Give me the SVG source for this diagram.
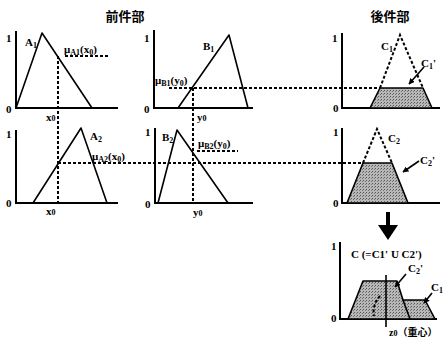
<svg xmlns="http://www.w3.org/2000/svg" width="443" height="341" viewBox="0 0 443 341">
<style>
.ax{stroke:#000;stroke-width:2;fill:none}
.mf{stroke:#000;stroke-width:1.6;fill:none;stroke-linejoin:round}
.dot{stroke:#000;stroke-width:2;stroke-dasharray:3 2;fill:none}
.sh{stroke:#000;stroke-width:1.6;stroke-linejoin:round}
.ln{stroke:#000;stroke-width:1.6;fill:none}
.t{font-family:"Liberation Serif",serif;font-weight:bold;font-size:11px;fill:#000}
.s{font-size:8px}
.m{font-family:"Liberation Serif",serif;font-weight:bold;font-size:11px;fill:#000}
.h{font-family:"Noto Sans CJK JP",sans-serif;font-weight:bold;font-size:13px;fill:#000}
.c{font-family:"Liberation Serif","Noto Sans CJK JP",serif;font-weight:bold;font-size:10px;fill:#000}
</style>
<defs>
<marker id="ah" viewBox="0 0 10 10" refX="9" refY="5" markerWidth="6" markerHeight="6" orient="auto" markerUnits="userSpaceOnUse">
<path d="M0,0 L10,5 L0,10 Z" fill="#000"/>
</marker>
<pattern id="stip" width="3" height="3" patternUnits="userSpaceOnUse">
<rect width="3" height="3" fill="#b8b8b8"/>
<rect x="0" y="0" width="1" height="1" fill="#555"/>
<rect x="2" y="1" width="1" height="1" fill="#777"/>
</pattern>
</defs>

<g id="headers">
<text class="h" x="125" y="21" text-anchor="middle">前件部</text>
<text class="h" x="390" y="21" text-anchor="middle">後件部</text>
</g>

<g id="panelA1">
<path class="ax" d="M16,31 V108 H118"/>
<text class="t" x="6" y="42">1</text>
<text class="t" x="6" y="113">0</text>
<path class="mf" d="M16,108 L42,33 L92,108"/>
<text class="t" x="25" y="46">A<tspan class="s" dy="2">1</tspan></text>
<text class="m" x="64" y="53">μ<tspan class="s" dy="2">A1</tspan><tspan dy="-2">(x</tspan><tspan class="s" dy="2">0</tspan><tspan dy="-2">)</tspan></text>
<text class="m" x="46" y="121">x<tspan class="s">0</tspan></text>
</g>

<g id="panelA2">
<path class="ax" d="M16,130 V203 H118"/>
<text class="t" x="6" y="138">1</text>
<text class="t" x="6" y="207">0</text>
<path class="mf" d="M33,203 L81,128 L107,203"/>
<text class="t" x="90" y="140">A<tspan class="s" dy="2">2</tspan></text>
<text class="m" x="92" y="160">μ<tspan class="s" dy="2">A2</tspan><tspan dy="-2">(x</tspan><tspan class="s" dy="2">0</tspan><tspan dy="-2">)</tspan></text>
<text class="m" x="46" y="215">x<tspan class="s">0</tspan></text>
</g>

<g id="panelB1">
<path class="ax" d="M154,30 V108 H253"/>
<text class="t" x="144" y="42">1</text>
<text class="t" x="144" y="113">0</text>
<path class="mf" d="M178,108 L229,35 L248,108"/>
<text class="t" x="203" y="50">B<tspan class="s" dy="2">1</tspan></text>
<text class="m" x="155" y="84">μ<tspan class="s" dy="2">B1</tspan><tspan dy="-2">(y</tspan><tspan class="s" dy="2">0</tspan><tspan dy="-2">)</tspan></text>
<text class="m" x="197" y="121">y<tspan class="s">0</tspan></text>
</g>

<g id="panelB2">
<path class="ax" d="M155,128 V203 H253"/>
<text class="t" x="145" y="136">1</text>
<text class="t" x="145" y="208">0</text>
<path class="mf" d="M158,203 L177,130 L228,203"/>
<text class="t" x="162" y="141">B<tspan class="s" dy="2">2</tspan></text>
<text class="m" x="198" y="147">μ<tspan class="s" dy="2">B2</tspan><tspan dy="-2">(y</tspan><tspan class="s" dy="2">0</tspan><tspan dy="-2">)</tspan></text>
<text class="m" x="193" y="216">y<tspan class="s">0</tspan></text>
</g>

<g id="panelC1">
<path class="ax" d="M342,33 V108 H440"/>
<text class="t" x="332" y="42">1</text>
<text class="t" x="333" y="112">0</text>
<path class="sh" d="M370,108 L380,88 H423 L432,108 Z" fill="url(#stip)"/>
<path class="dot" d="M380,88 L400,35 L423,88"/>
<text class="t" x="381" y="50">C<tspan class="s" dy="2">1</tspan></text>
<text class="t" x="421" y="67">C<tspan class="s" dy="2">1</tspan><tspan dy="-2">'</tspan></text>
</g>

<g id="panelC2">
<path class="ax" d="M342,128 V203 H440"/>
<text class="t" x="333" y="136">1</text>
<text class="t" x="333" y="207">0</text>
<path class="sh" d="M347,203 L363,163 H392 L408,203 Z" fill="url(#stip)"/>
<path class="dot" d="M363,163 L377,129 L392,163"/>
<text class="t" x="388" y="142">C<tspan class="s" dy="2">2</tspan></text>
<text class="t" x="420" y="164">C<tspan class="s" dy="2">2</tspan><tspan dy="-2">'</tspan></text>
</g>

<g id="result">
<path class="ax" d="M340,242 V319 H437"/>
<text class="t" x="331" y="250">1</text>
<text class="t" x="331" y="322">0</text>
<text class="m" x="351" y="258">C (=C1' U C2')</text>
<path class="sh" d="M348,319 L363,281 H397 L403,300 H425 L435,319 Z" fill="url(#stip)"/>
<path class="ln" d="M403,300 L410,319"/>
<path class="dot" d="M380,296 Q372,305 374,316"/>
<path class="ln" d="M386,275 V327"/>
<text class="c" x="389" y="336">z<tspan class="s">0</tspan>（重心）</text>
<text class="t" x="408" y="272">C<tspan class="s" dy="2">2</tspan><tspan dy="-2">'</tspan></text>
<text class="t" x="431" y="291">C<tspan class="s" dy="2">1</tspan></text>
</g>

<g id="connectors">
<path class="dot" d="M65,56 H108"/>
<path class="dot" d="M58,56 V203"/>
<path class="dot" d="M58,163 H363"/>
<path class="dot" d="M169,88 H380"/>
<path class="dot" d="M193,88 V203"/>
<path class="dot" d="M197,151 H238"/>
<path class="ln" d="M424,67 L409,84" marker-end="url(#ah)"/>
<path class="ln" d="M419,161 L403,172" marker-end="url(#ah)"/>
<path class="ln" d="M406,274 L395,287" marker-end="url(#ah)"/>
<path class="ln" d="M432,293 L424,303" marker-end="url(#ah)"/>
<path d="M388,212 V228" stroke="#000" stroke-width="4"/>
<path d="M378,225 H398 L388,240 Z" fill="#000"/>
</g>
</svg>
